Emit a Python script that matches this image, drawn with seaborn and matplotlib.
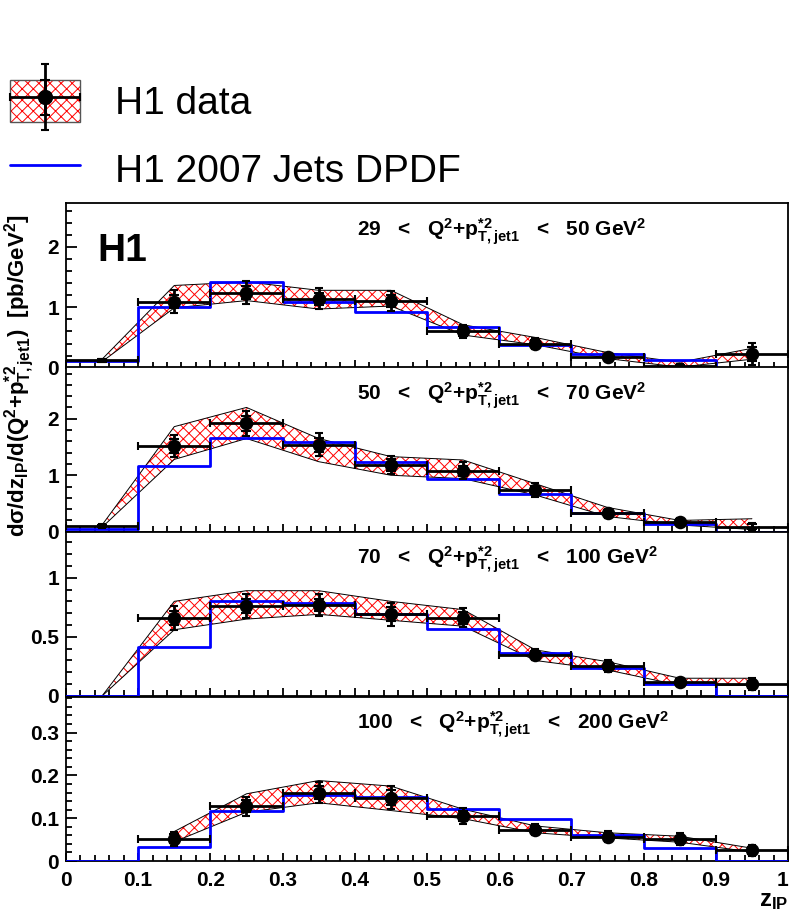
import numpy as np
import matplotlib.pyplot as plt
import seaborn as sns
from matplotlib.patches import Patch
from matplotlib.lines import Line2D
from matplotlib.ticker import MultipleLocator, FormatStrFormatter
from matplotlib.legend_handler import HandlerErrorbar

sns.set_style("ticks")
plt.rcParams["font.family"] = ["Liberation Sans", "DejaVu Sans"]
plt.rcParams["mathtext.fontset"] = "custom"
plt.rcParams["mathtext.rm"] = "Liberation Sans:bold"
plt.rcParams["mathtext.it"] = "Liberation Sans:bold"
plt.rcParams["mathtext.bf"] = "Liberation Sans:bold"
plt.rcParams["hatch.linewidth"] = 0.7
for key in ["text.color", "axes.labelcolor", "xtick.color", "ytick.color", "axes.edgecolor"]:
    plt.rcParams[key] = "black"

# z_IP bins
edges = [0.0, 0.1, 0.2, 0.3, 0.4, 0.5, 0.6, 0.7, 0.8, 0.9, 1.0]
centers = [0.05, 0.15, 0.25, 0.35, 0.45, 0.55, 0.65, 0.75, 0.85, 0.95]
xlabels = ["0", "0.1", "0.2", "0.3", "0.4", "0.5", "0.6", "0.7", "0.8", "0.9", "1"]

q2_lo = ["29", "50", "70", "100"]
q2_hi = ["50", "70", "100", "200"]

# H1 data, total and stat errors
data_29 = [0.12, 1.09, 1.24, 1.14, 1.10, 0.60, 0.40, 0.18, 0.03, 0.23]
tot_29 = [0.03, 0.19, 0.19, 0.17, 0.17, 0.11, 0.09, 0.05, 0.03, 0.18]
stat_29 = [0.02, 0.11, 0.11, 0.10, 0.10, 0.07, 0.05, 0.03, 0.02, 0.12]
data_50 = [0.10, 1.52, 1.92, 1.54, 1.18, 1.08, 0.74, 0.33, 0.18, 0.09]
tot_50 = [0.03, 0.19, 0.22, 0.20, 0.16, 0.15, 0.12, 0.08, 0.07, 0.07]
stat_50 = [0.02, 0.12, 0.13, 0.12, 0.10, 0.09, 0.07, 0.05, 0.04, 0.04]
data_70 = [np.nan, 0.66, 0.76, 0.77, 0.69, 0.66, 0.35, 0.25, 0.12, 0.10]
tot_70 = [0.0, 0.10, 0.10, 0.09, 0.10, 0.08, 0.05, 0.05, 0.03, 0.05]
stat_70 = [0.0, 0.06, 0.06, 0.05, 0.06, 0.05, 0.03, 0.03, 0.02, 0.03]
data_100 = [np.nan, 0.052, 0.128, 0.160, 0.148, 0.105, 0.073, 0.057, 0.051, 0.025]
tot_100 = [0.0, 0.016, 0.022, 0.024, 0.027, 0.018, 0.013, 0.012, 0.014, 0.013]
stat_100 = [0.0, 0.010, 0.014, 0.015, 0.017, 0.011, 0.008, 0.007, 0.008, 0.008]

# hatched band edges
band_up_29 = [0.14, 1.36, 1.42, 1.28, 1.28, 0.71, 0.50, 0.25, 0.09, 0.32]
band_lo_29 = [0.10, 0.99, 1.11, 0.97, 1.02, 0.54, 0.38, 0.15, 0.01, 0.14]
band_up_50 = [0.12, 1.86, 2.20, 1.65, 1.33, 1.27, 0.85, 0.43, 0.20, 0.23]
band_lo_50 = [0.08, 1.28, 1.65, 1.24, 1.00, 0.94, 0.65, 0.27, 0.12, 0.04]
band_up_70 = [0.0, 0.80, 0.89, 0.89, 0.80, 0.73, 0.39, 0.29, 0.15, 0.15]
band_lo_70 = [0.0, 0.56, 0.65, 0.69, 0.64, 0.59, 0.30, 0.22, 0.09, 0.09]
band_up_100 = [np.nan, 0.069, 0.157, 0.188, 0.175, 0.121, 0.082, 0.066, 0.058, 0.030]
band_lo_100 = [np.nan, 0.045, 0.114, 0.136, 0.118, 0.099, 0.066, 0.054, 0.044, 0.021]

# H1 2007 Jets DPDF prediction
dpdf_29 = [0.11, 1.01, 1.41, 1.08, 0.92, 0.68, 0.37, 0.22, 0.12, 0.0]
dpdf_50 = [0.05, 1.16, 1.66, 1.58, 1.24, 0.93, 0.67, 0.34, 0.14, 0.0]
dpdf_70 = [0.0, 0.41, 0.80, 0.79, 0.69, 0.57, 0.36, 0.24, 0.10, 0.0]
dpdf_100 = [0.0, 0.033, 0.117, 0.155, 0.149, 0.121, 0.099, 0.061, 0.030, 0.0]

panels = [
    (data_29, tot_29, stat_29, band_up_29, band_lo_29, dpdf_29),
    (data_50, tot_50, stat_50, band_up_50, band_lo_50, dpdf_50),
    (data_70, tot_70, stat_70, band_up_70, band_lo_70, dpdf_70),
    (data_100, tot_100, stat_100, band_up_100, band_lo_100, dpdf_100),
]
ymax = [2.72, 2.91, 1.39, 0.384]
ymajor = [1, 1, 0.5, 0.1]
yminor = [0.2, 0.2, 0.1, 0.02]

fig = plt.figure(figsize=(7.9, 9.16), dpi=100)
bottoms = [0.5986, 0.4195, 0.2402, 0.0600]
axes = [fig.add_axes([0.0835, b, 0.914, 0.1795]) for b in bottoms]

for i, ax in enumerate(axes):
    data, tot, stat, up, lo, dpdf = panels[i]

    ax.fill_between(centers, lo, up, facecolor="white", edgecolor="red",
                    hatch="xxx", linewidth=0, zorder=1)
    ax.plot(centers, up, color="black", lw=0.7, zorder=2)
    ax.plot(centers, lo, color="black", lw=0.7, zorder=2)

    sns.histplot(x=centers, weights=dpdf, bins=edges, element="step",
                 fill=False, color="blue", linewidth=2, ax=ax, zorder=3)

    tot_eb = ax.errorbar(centers, data, yerr=tot, xerr=0.05, fmt="none",
                         ecolor="black", elinewidth=2, capsize=3,
                         capthick=1.5, zorder=4)
    stat_eb = ax.errorbar(centers, data, yerr=stat, fmt="none",
                          ecolor="black", elinewidth=2, capsize=3.5,
                          capthick=1.5, zorder=4)
    shown = [d if d > 0.05 * ymax[i] else np.nan for d in data]
    sns.scatterplot(x=centers, y=shown, color="black", s=95, marker="o",
                    edgecolor="black", linewidth=0, ax=ax, zorder=5)

    ax.set_xlim(0, 1)
    ax.set_ylim(0, ymax[i])
    ax.set_xlabel("")
    ax.set_ylabel("")
    ax.xaxis.set_major_locator(MultipleLocator(0.1))
    ax.xaxis.set_minor_locator(MultipleLocator(0.02))
    ax.yaxis.set_major_locator(MultipleLocator(ymajor[i]))
    ax.yaxis.set_minor_locator(MultipleLocator(yminor[i]))
    ax.yaxis.set_major_formatter(FormatStrFormatter("%g"))
    ax.tick_params(axis="both", which="both", direction="in", top=False,
                   right=False, labelsize=15, width=1.3)
    ax.tick_params(axis="y", which="major", length=8, pad=5)
    ax.tick_params(axis="y", which="minor", length=4)
    ax.tick_params(axis="x", which="major", length=6, pad=7)
    ax.tick_params(axis="x", which="minor", length=4)
    for lab in ax.get_yticklabels():
        lab.set_fontweight("bold")
    if i < 3:
        ax.tick_params(axis="x", labelbottom=False)
    else:
        ax.set_xticks(edges)
        ax.set_xticklabels(xlabels, fontweight="bold")
        ax.get_xticklabels()[-1].set_horizontalalignment("right")
    for sp in ax.spines.values():
        sp.set_linewidth(1.3)

    ax.text(0.403, 0.80,
            q2_lo[i] + "   <   Q$^{2}$+p$^{*2}_{T,jet1}$   <   " + q2_hi[i]
            + " GeV$^{2}$",
            transform=ax.transAxes, fontsize=15, fontweight="bold",
            va="baseline", ha="left")

    if i == 0:
        ax.text(0.043, 0.71, "H1", transform=ax.transAxes, fontsize=28,
                fontweight="bold", va="center", ha="left")
        leg_tot, leg_stat = tot_eb, stat_eb

fig.text(0.025, 0.59,
         r"d$\sigma$/dz$_{IP}$/d(Q$^{2}$+p$^{*2}_{T,jet1}$)  [pb/GeV$^{2}$]",
         rotation=90, fontsize=16, fontweight="bold", ha="center", va="center")
fig.text(0.998, 0.004, "z$_{IP}$", fontsize=17, fontweight="bold",
         ha="right", va="bottom")

# legend
hatch_patch = Patch(facecolor="white", edgecolor="red", hatch="xxx", linewidth=0)
frame_patch = Patch(fill=False, edgecolor="#555555", linewidth=1)
dot = Line2D([], [], marker="o", color="black", ls="none", markersize=10)
blue_line = Line2D([], [], color="blue", lw=2)
fig.legend(handles=[(hatch_patch, frame_patch, leg_tot, leg_stat, dot), blue_line],
           labels=["H1 data", "H1 2007 Jets DPDF"],
           handler_map={leg_tot: HandlerErrorbar(xerr_size=0.9, yerr_size=0.85),
                        leg_stat: HandlerErrorbar(xerr_size=0.9, yerr_size=0.45)},
           loc="upper left", bbox_to_anchor=(0.013, 1 - 80 / 916),
           frameon=False, fontsize=28, handlelength=1.8, handleheight=1.3,
           handletextpad=0.9, labelspacing=0.65, borderpad=0, borderaxespad=0)

fig.savefig("out.png", dpi=100)
